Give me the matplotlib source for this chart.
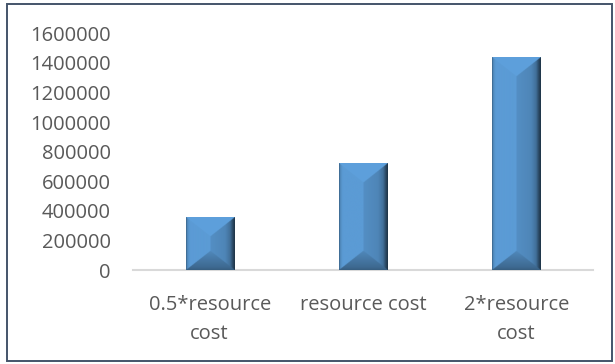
import matplotlib
matplotlib.use("Agg")
import matplotlib.pyplot as plt
import numpy as np
from matplotlib.patches import Rectangle

categories = ["0.5*resource\ncost", "resource cost", "2*resource\ncost"]
costs = [356000, 720000, 1440000]
yticks = [0, 200000, 400000, 600000, 800000, 1000000, 1200000, 1400000, 1600000]

BASE = np.array([91, 155, 213]) / 255.0
TEXT = "#595959"

plt.rcParams["font.family"] = ["Open Sans", "DejaVu Sans"]

W, H, DPI = 615, 364, 100
fig = plt.figure(figsize=(W / DPI, H / DPI), dpi=DPI)

# plot area in pixels: x 133..593, y 33..270 (from top)
ax = fig.add_axes([133 / W, 1 - 270 / H, (593 - 133) / W, (270 - 33.4) / H])
ax.set_xlim(-0.5, len(categories) - 0.5)
ax.set_ylim(0, 1600000)

bars = ax.bar(range(len(categories)), costs, width=0.315, color="none", linewidth=0)


def bevel_image(w, h, bevel):
    # pyramid-style bevel: each pixel takes the shade of its nearest edge
    xs = np.arange(w) + 0.5
    ys = np.arange(h) + 0.5
    X, Y = np.meshgrid(xs, ys)
    dl = X
    dr = w - X
    dt = Y / bevel
    db = (h - Y) / bevel
    u = X / w
    shade = np.ones_like(X)

    left = dl <= np.minimum(dr, np.minimum(dt, db))
    ls = np.interp(u, [0.0, 0.03, 0.08, 0.5], [0.6, 0.9, 1.0, 1.0])
    shade[left] = ls[left]

    right = (dr < dl) & (dr <= np.minimum(dt, db))
    rs = np.interp(u, [0.5, 0.8, 0.9, 0.96, 1.0], [0.92, 0.86, 0.72, 0.45, 0.32])
    shade[right] = rs[right]

    top = (dt < np.minimum(dl, dr)) & (dt <= db)
    shade[top] = 1.03

    bot = (db < np.minimum(dl, dr)) & (db < dt)
    bs = np.interp(db / (w / 2.0), [0.0, 0.15, 1.0], [0.6, 0.68, 0.88])
    shade[bot] = bs[bot]

    img = np.clip(BASE[None, None, :] * shade[..., None], 0, 1)
    return img


fig.canvas.draw()
for bar in bars:
    x0, x1 = bar.get_x(), bar.get_x() + bar.get_width()
    y0, y1 = 0, bar.get_height()
    p0 = ax.transData.transform((x0, y0))
    p1 = ax.transData.transform((x1, y1))
    wpx = int(round(p1[0] - p0[0]))
    hpx = int(round(p1[1] - p0[1]))
    img = bevel_image(wpx * 3, hpx * 3, bevel=0.8)
    ax.imshow(img, extent=(x0, x1, y0, y1), aspect="auto", interpolation="bilinear", zorder=2)

ax.set_xlim(-0.5, len(categories) - 0.5)
ax.set_ylim(0, 1600000)

for side in ["left", "right", "top"]:
    ax.spines[side].set_visible(False)
ax.spines["bottom"].set_color("#d9d9d9")
ax.spines["bottom"].set_linewidth(1.5)
ax.spines["bottom"].set_zorder(1)

ax.set_yticks(yticks)
ax.set_yticklabels([str(v) for v in yticks])
ax.set_xticks(range(len(categories)))
ax.set_xticklabels(categories, linespacing=1.6)
ax.tick_params(axis="y", length=0, pad=16, labelsize=14.5, labelcolor=TEXT)
ax.tick_params(axis="x", length=0, pad=18, labelsize=14.5, labelcolor=TEXT)

# chart border
fig.patches.append(Rectangle((7 / W, 1 - 361 / H), (612 - 7) / W, (361 - 4) / H,
                             transform=fig.transFigure, fill=False,
                             edgecolor="#44546a", linewidth=1.4))

fig.savefig("out.png", dpi=DPI)
